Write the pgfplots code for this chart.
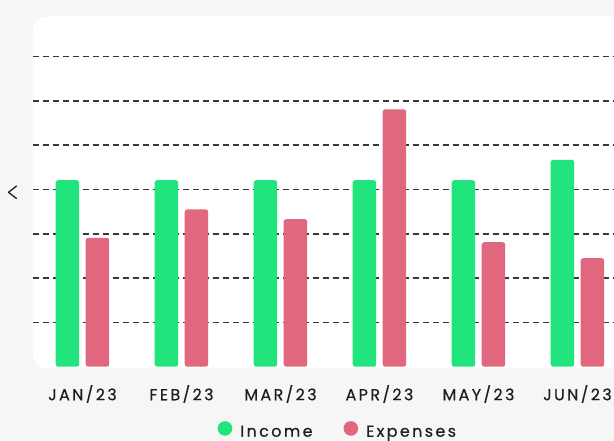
\documentclass[border=0pt]{standalone}
\usepackage{pgfplots}
\pgfplotsset{compat=1.18}
\usepackage{fontspec}
\setmainfont{Poppins}
\newfontfamily\lbl[LetterSpace=15, FakeBold=0.4]{Poppins}
\definecolor{incomeC}{HTML}{22E47D}
\definecolor{expC}{HTML}{E0677D}
\definecolor{bgC}{HTML}{F6F6F6}
\definecolor{txtC}{HTML}{1E1E1E}
\begin{document}
\begin{tikzpicture}
\useasboundingbox (0,0) rectangle (614bp,441bp);
\begin{scope}
\clip (0,0) rectangle (614bp,441bp);
\fill[bgC] (0,0) rectangle (614bp,441bp);
\fill[white, rounded corners=14bp] (32.7bp,73bp) rectangle (660bp,424.5bp);
\end{scope}
\draw[line width=1.3bp, txtC, line cap=round, line join=round] (16.5bp,255bp) -- (8.5bp,248.7bp) -- (16.5bp,242.5bp);
\begin{axis}[
  at={(32.7bp,74.3bp)}, anchor=south west,
  scale only axis,
  width=581.3bp, height=349.7bp,
  xmin=-0.503, xmax=5.369,
  ymin=0, ymax=7.894,
  ybar, bar width=23.5bp,
  axis line style={draw=none},
  tick style={draw=none},
  ytick={1,2,3,4,5,6,7},
  yticklabels={},
  ymajorgrids,
  major grid style={dash pattern=on 6bp off 4bp, line width=1.6bp, color=black!78},
  xtick={0,1,2,3,4,5},
  xticklabels={JAN/23,FEB/23,MAR/23,APR/23,MAY/23,JUN/23},
  xticklabel style={anchor=base, yshift=-29.3bp, font=\lbl\fontsize{16}{18}\selectfont, text=txtC},
  legend columns=2,
  legend style={at={(0.525,-0.183)}, anchor=center, draw=none, fill=none,
    font=\lbl\fontsize{16}{18}\selectfont, text=txtC,
    /tikz/every odd column/.append style={column sep=6bp},
    /tikz/every even column/.append style={column sep=29bp}},
  legend image code/.code={\fill[#1] (0bp,0.35em) circle (7.3bp);},
]
\addplot[fill=incomeC, draw=none, rounded corners=2.5bp, bar shift=-15bp] coordinates {(0,4.21) (1,4.21) (2,4.21) (3,4.21) (4,4.21) (5,4.67)};
\addplot[fill=expC, draw=none, rounded corners=2.5bp, bar shift=15bp] coordinates {(0,2.91) (1,3.55) (2,3.33) (3,5.81) (4,2.81) (5,2.45)};
\legend{Income,Expenses}
\end{axis}
\end{tikzpicture}
\end{document}
